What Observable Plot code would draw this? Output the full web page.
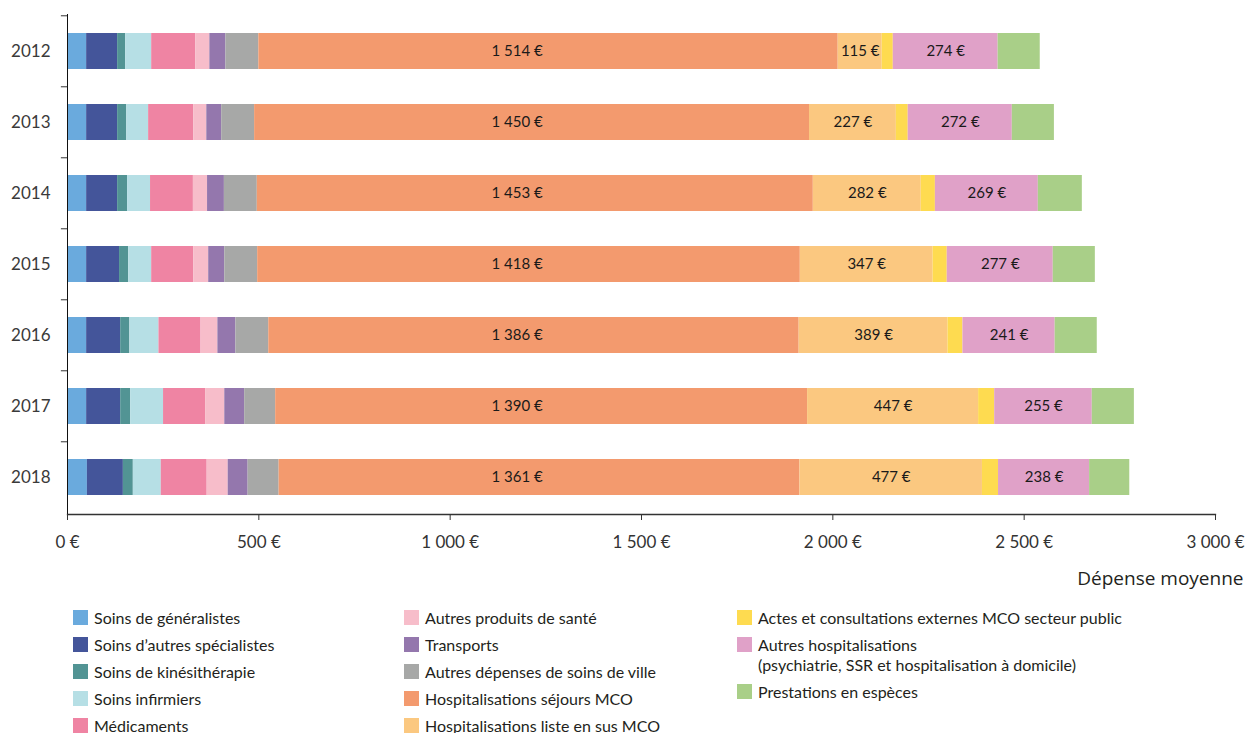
<!DOCTYPE html>
<html>
<head>
<meta charset="utf-8">
<script src="https://cdn.jsdelivr.net/npm/d3@7"></script>
<script src="https://cdn.jsdelivr.net/npm/@observablehq/plot@0.6"></script>
<style>
  body { margin: 0; background: #fff; font-family: Lato, "Open Sans", sans-serif; color: #231f20; }
  #chart svg { display: block; }
  #legend { display: flex; padding-left: 73px; margin-top: 13px; font-size: 16px; }
  .col { display: flex; flex-direction: column; }
  .item { display: flex; align-items: flex-start; line-height: 20px; padding-bottom: 7px; }
  .sw { width: 15px; height: 15px; margin-top: 2px; margin-right: 6px; flex: none; }
</style>
</head>
<body>
<div id="chart"></div>
<div id="legend"></div>
<script>
const years = ["2012", "2013", "2014", "2015", "2016", "2017", "2018"];
const categories = [
  "Soins de généralistes",
  "Soins d’autres spécialistes",
  "Soins de kinésithérapie",
  "Soins infirmiers",
  "Médicaments",
  "Autres produits de santé",
  "Transports",
  "Autres dépenses de soins de ville",
  "Hospitalisations séjours MCO",
  "Hospitalisations liste en sus MCO",
  "Actes et consultations externes MCO secteur public",
  "Autres hospitalisations\n(psychiatrie, SSR et hospitalisation à domicile)",
  "Prestations en espèces"
];
const colors = ["#6aaadd", "#44559a", "#529494", "#b6dfe5", "#ef84a3", "#f7bdca", "#9477ad",
  "#a7a8a7", "#f39a6e", "#fbc880", "#fedb50", "#e0a1c8", "#a9cf88"];

// values per category, one entry per year (2012..2018), in euros
const generalistes   = [50, 50, 50, 50, 50, 50, 52];
const specialistes   = [81, 81, 81, 86, 89, 89, 94];
const kine           = [21, 24, 26, 24, 24, 26, 26];
const infirmiers     = [68, 57, 60, 60, 76, 86, 73];
const medicaments    = [115, 118, 112, 110, 110, 110, 120];
const autresProduits = [37, 34, 37, 39, 44, 50, 55];
const transports     = [42, 39, 44, 42, 47, 52, 52];
const autresDepenses = [86, 86, 86, 86, 86, 81, 81];
const sejoursMCO     = [1514, 1450, 1453, 1418, 1386, 1390, 1361];
const listeEnSus     = [115, 227, 282, 347, 389, 447, 477];
const actesExternes  = [29, 31, 37, 37, 39, 42, 42];
const autresHosp     = [274, 272, 269, 277, 241, 255, 238];
const prestations    = [110, 110, 115, 110, 110, 110, 105];

const series = [generalistes, specialistes, kine, infirmiers, medicaments, autresProduits,
  transports, autresDepenses, sejoursMCO, listeEnSus, actesExternes, autresHosp, prestations];
const centeredLabels = [categories[9], categories[11]];
const mcoCategory = categories[8];
const mcoLabelAt = 1175; // MCO labels sit at a common position in the original
const xTicks = [0, 500, 1000, 1500, 2000, 2500, 3000];

const data = [];
years.forEach((y, i) => categories.forEach((c, j) => data.push({year: y, cat: c, value: series[j][i]})));

const fmt = v => d3.format(",")(v).replace(/,/g, "\u00a0") + "\u00a0€";

const W = 1245, H = 595, mTop = 14, mBottom = 81;
const step = (H - mTop - mBottom) / years.length;

const chart = Plot.plot({
  width: W, height: H,
  marginTop: mTop, marginBottom: mBottom, marginLeft: 67, marginRight: 30,
  style: {fontFamily: "Lato, 'Open Sans', sans-serif", color: "#231f20", background: "#fff"},
  x: {domain: [0, 3000], ticks: xTicks, tickFormat: fmt, label: null},
  y: {domain: years, paddingInner: 0.5, paddingOuter: 0.25, label: null},
  color: {domain: categories, range: colors},
  marks: [
    Plot.barX(data, Plot.stackX({x: "value", y: "year", fill: "cat", order: categories})),
    Plot.text(data, Plot.stackX({
      x: "value", y: "year", z: "cat", order: categories,
      text: d => centeredLabels.includes(d.cat) ? fmt(d.value) : null,
      fontSize: 15, fill: "#1a1a1a"
    })),
    Plot.text(data.filter(d => d.cat === mcoCategory), {
      x: () => mcoLabelAt, y: "year", text: d => fmt(d.value),
      fontSize: 15, fill: "#1a1a1a"
    }),
    Plot.ruleY(years, {y: d => d, x1: -16, x2: 0, dy: -step / 2, stroke: "#333"}),
    Plot.frame({anchor: "left", stroke: "#111"}),
    Plot.frame({anchor: "bottom", stroke: "#333", strokeWidth: 1.3}),
    Plot.axisY({tickSize: 0, tickPadding: 17, fontSize: 17, fill: "#3a3a3a", label: null}),
    Plot.axisX({ticks: xTicks, tickFormat: fmt, tickSize: 6, tickPadding: 15, fontSize: 17, fill: "#333", label: null, stroke: "#333"}),
    Plot.text(["Dépense moyenne"], {frameAnchor: "bottom-right", textAnchor: "end", lineAnchor: "middle", dx: 28, dy: 64, fontSize: 19, fontFamily: "'Open Sans', sans-serif", fill: "#231f20"})
  ]
});
document.getElementById("chart").appendChild(chart);

// legend
const legend = document.getElementById("legend");
const colWidths = [331, 333, 450];
const cols = [[0, 1, 2, 3, 4], [5, 6, 7, 8, 9], [10, 11, 12]];
cols.forEach((idxs, ci) => {
  const col = document.createElement("div");
  col.className = "col";
  col.style.width = colWidths[ci] + "px";
  idxs.forEach(i => {
    const item = document.createElement("div");
    item.className = "item";
    const sw = document.createElement("span");
    sw.className = "sw";
    sw.style.background = colors[i];
    const t = document.createElement("span");
    t.style.whiteSpace = "pre";
    t.textContent = categories[i];
    item.appendChild(sw);
    item.appendChild(t);
    col.appendChild(item);
  });
  legend.appendChild(col);
});
</script>
</body>
</html>
